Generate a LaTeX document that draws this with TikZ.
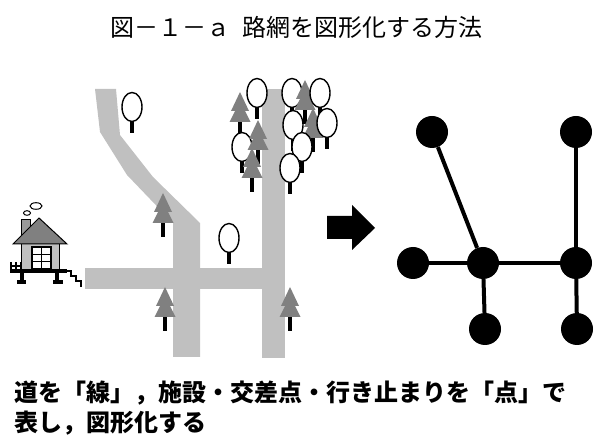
\documentclass[tikz,border=0pt]{standalone}
\usepackage{fontspec}
\newfontfamily\jp{Noto Sans CJK JP}
\definecolor{road}{HTML}{C0C0C0}
\definecolor{pine}{HTML}{808080}
\definecolor{wall}{HTML}{C0C0C0}
\begin{document}
\begin{tikzpicture}[x=1pt,y=-1pt,
  leaftree/.pic={
    \fill[black] (-2,10) rectangle (2,26);
    \draw[line width=1.4pt, fill=white] (0,0) ellipse [x radius=10, y radius=14.5];
  },
  conifer/.pic={
    \fill[black] (-2,28) rectangle (2,44);
    \fill[pine] (0,0) -- (-9,19) -- (9,19) -- cycle;
    \fill[pine] (0,9) -- (-10.5,30) -- (10.5,30) -- cycle;
  },
  dot/.style={circle, fill=black, minimum size=32pt, inner sep=0pt},
  link/.style={line width=4pt},
  thin/.style={line width=1pt},
]
\useasboundingbox (0,0) rectangle (597,443);

% roads
\fill[road] (95,89) -- (116,89) -- (120,135) -- (153,177) -- (200,223)
  -- (200,357) -- (173,357) -- (173,223) -- (127,175) -- (100,132) -- cycle;
\fill[road] (85,268) rectangle (262,289);
\fill[road] (262,89) rectangle (285,358);

% house on stilts
\fill[black] (10,269) rectangle (67,273);
\fill[black] (20,271) rectangle (24,283);
\fill[black] (55,271) rectangle (59,283);
\fill[black] (17,280) rectangle (26,284);
\fill[black] (53,280) rectangle (63,284);
\draw[line width=2pt] (11,262) -- (11,271) (16,262) -- (16,271) (21,262) -- (21,271) (26,262) -- (26,271);
\draw[line width=1.5pt] (10,266) -- (27,266);
\draw[line width=2pt] (66,271) -- (71,271) -- (71,276) -- (76,276) -- (76,281) -- (81,281) -- (81,287);
\draw[thin, fill=wall] (21,244) rectangle (59,270);
\draw[thin, fill=white] (32,247) rectangle (51,269);
\draw[line width=1.3pt] (32,247) rectangle (51,269) (41.5,247) -- (41.5,269)
  (32,254.3) -- (51,254.3) (32,261.7) -- (51,261.7);
\draw[thin, fill=pine!80!white] (21,220) rectangle (30,240);
\draw[thin, fill=pine] (13,244) -- (39,218) -- (67,244) -- cycle;
\draw[thin] (27,213) ellipse [x radius=3.5, y radius=2.3];
\draw[thin] (36,206) ellipse [x radius=6, y radius=3.3];

% trees
\pic at (132,107) {leaftree};
\pic at (229,238) {leaftree};
\pic at (163,193) {conifer};
\pic at (165,287) {conifer};
\pic at (290,287) {conifer};

\pic at (240,92) {conifer};
\pic at (257,93) {leaftree};
\pic at (242,147) {leaftree};
\pic at (258,120) {conifer};
\pic at (252,148) {conifer};

\pic at (292,93) {leaftree};
\pic at (305,80) {conifer};
\pic at (320,93) {leaftree};
\pic at (313,108) {conifer};
\pic at (293,125) {leaftree};
\pic at (327,123) {leaftree};
\pic at (302,147) {leaftree};
\pic at (290,168) {leaftree};

% block arrow
\fill[black] (327,216) -- (352,216) -- (352,205) -- (375,228) -- (352,250)
  -- (352,239) -- (327,239) -- cycle;

% graph
\node[dot] (n1) at (432,132) {};
\node[dot] (n2) at (576,132) {};
\node[dot] (n3) at (413,263) {};
\node[dot] (n4) at (483,263) {};
\node[dot] (n5) at (576,263) {};
\node[dot] (n6) at (485,329) {};
\node[dot] (n7) at (577,329) {};
\draw[link] (n1) -- (n4);
\draw[link] (n3) -- (n4);
\draw[link] (n4) -- (n5);
\draw[link] (n2) -- (n5);
\draw[link] (n4) -- (n6);
\draw[link] (n5) -- (n7);

% texts
\node (title) at (296,27.5) {\jp\fontsize{24}{24}\selectfont 図－１－ａ\hspace{0.5em}路網を図形化する方法};
\node[anchor=west, inner sep=0pt] (cap1) at (14,393) {\jp\bfseries\fontsize{24}{24}\selectfont 道を「線」，施設・交差点・行き止まりを「点」で};
\node[anchor=west, inner sep=0pt] (cap2) at (14,423) {\jp\bfseries\fontsize{24}{24}\selectfont 表し，図形化する};
\end{tikzpicture}
\end{document}
